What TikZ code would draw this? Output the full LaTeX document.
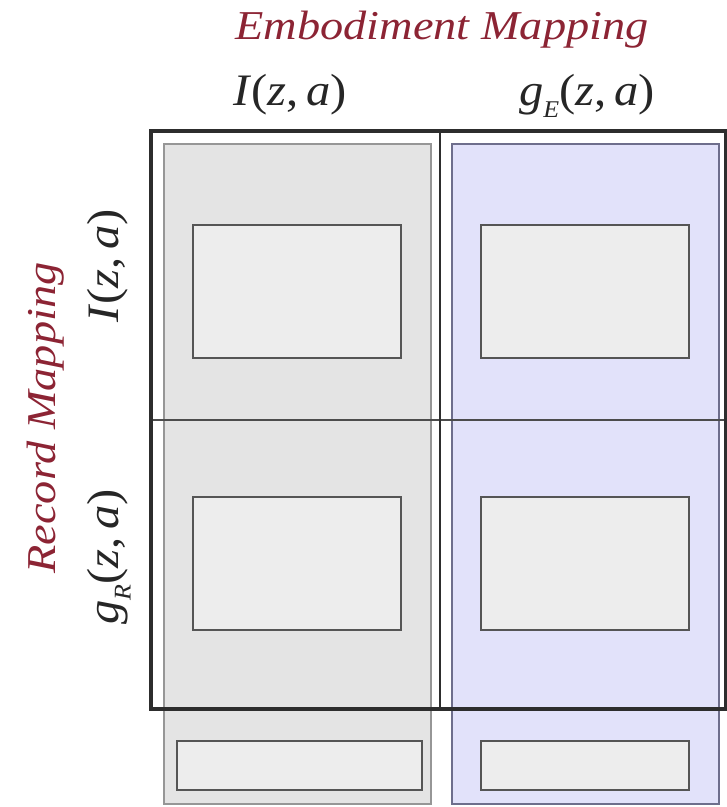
\documentclass[tikz,border=0pt]{standalone}
\usepackage{fontspec}
\setmainfont{Liberation Serif}
\definecolor{titlered}{RGB}{140,36,52}
\definecolor{grayfill}{RGB}{228,228,228}
\definecolor{grayedge}{RGB}{150,150,150}
\definecolor{bluefill}{RGB}{226,226,250}
\definecolor{blueedge}{RGB}{110,110,140}
\definecolor{boxfill}{RGB}{237,237,237}
\definecolor{boxedge}{RGB}{85,85,85}
\definecolor{frameedge}{RGB}{45,45,45}
\newcommand{\bigtitle}[1]{\fontsize{41}{43}\selectfont\itshape\scalebox{1.13}[1]{#1}}
\newcommand{\mathlab}[1]{\fontsize{45}{47}\selectfont\scalebox{1.08}[1]{#1}}
\newcommand{\subE}[1]{\raisebox{-0.28em}{\fontsize{24}{26}\selectfont\itshape #1}}
\begin{document}
\begin{tikzpicture}[x=1pt,y=-1pt,
  colgray/.style={draw=grayedge,fill=grayfill,line width=2pt,anchor=north west,inner sep=0pt,minimum width=267pt,minimum height=660pt},
  colblue/.style={draw=blueedge,fill=bluefill,line width=2pt,anchor=north west,inner sep=0pt,minimum width=267pt,minimum height=660pt},
  cellbox/.style={draw=boxedge,fill=boxfill,line width=1.5pt,anchor=north west,inner sep=0pt,minimum width=208pt,minimum height=133pt},
  footbox/.style={draw=boxedge,fill=boxfill,line width=1.5pt,anchor=north west,inner sep=0pt,minimum height=49pt},
  titletext/.style={text=titlered,anchor=base,inner sep=0pt},
  labtext/.style={text=black!85,anchor=base,inner sep=0pt}
]
\useasboundingbox (0,0) rectangle (727,807);
% columns
\node[colgray] (cg) at (163,143) {};
\node[colblue] (cb) at (451,143) {};
% frame and dividers
\coordinate (ftl) at (151,131);
\coordinate (fbr) at (726,709);
\coordinate (vt) at (440,131);
\coordinate (vb) at (440,709);
\coordinate (hl) at (151,420);
\coordinate (hr) at (726,420);
\draw[frameedge!85,line width=2pt] (hl) -- (hr);
\draw[frameedge,line width=2.5pt] (vt) -- (vb);
\draw[frameedge,line width=4pt] (ftl) rectangle (fbr);
% inner boxes
\node[cellbox] (b11) at (192,224) {};
\node[cellbox] (b12) at (480,224) {};
\node[cellbox] (b21) at (192,496) {};
\node[cellbox] (b22) at (480,496) {};
\node[footbox,minimum width=245pt] (f1) at (176,740) {};
\node[footbox,minimum width=208pt] (f2) at (480,740) {};
% labels
\node[titletext] (emb) at (442,39) {\bigtitle{Embodiment Mapping}};
\node[titletext,rotate=90] (rec) at (55,418) {\bigtitle{Record Mapping}};
\node[labtext] (c1) at (290,105) {\mathlab{\textit{I}(\textit{z},\,\textit{a})}};
\node[labtext] (c2) at (587,105) {\mathlab{\textit{g}\subE{E}(\textit{z},\,\textit{a})}};
\node[labtext,rotate=90] (r1) at (118,266) {\mathlab{\textit{I}(\textit{z},\,\textit{a})}};
\node[labtext,rotate=90] (r2) at (118,557) {\mathlab{\textit{g}\subE{R}(\textit{z},\,\textit{a})}};
\end{tikzpicture}
\end{document}
